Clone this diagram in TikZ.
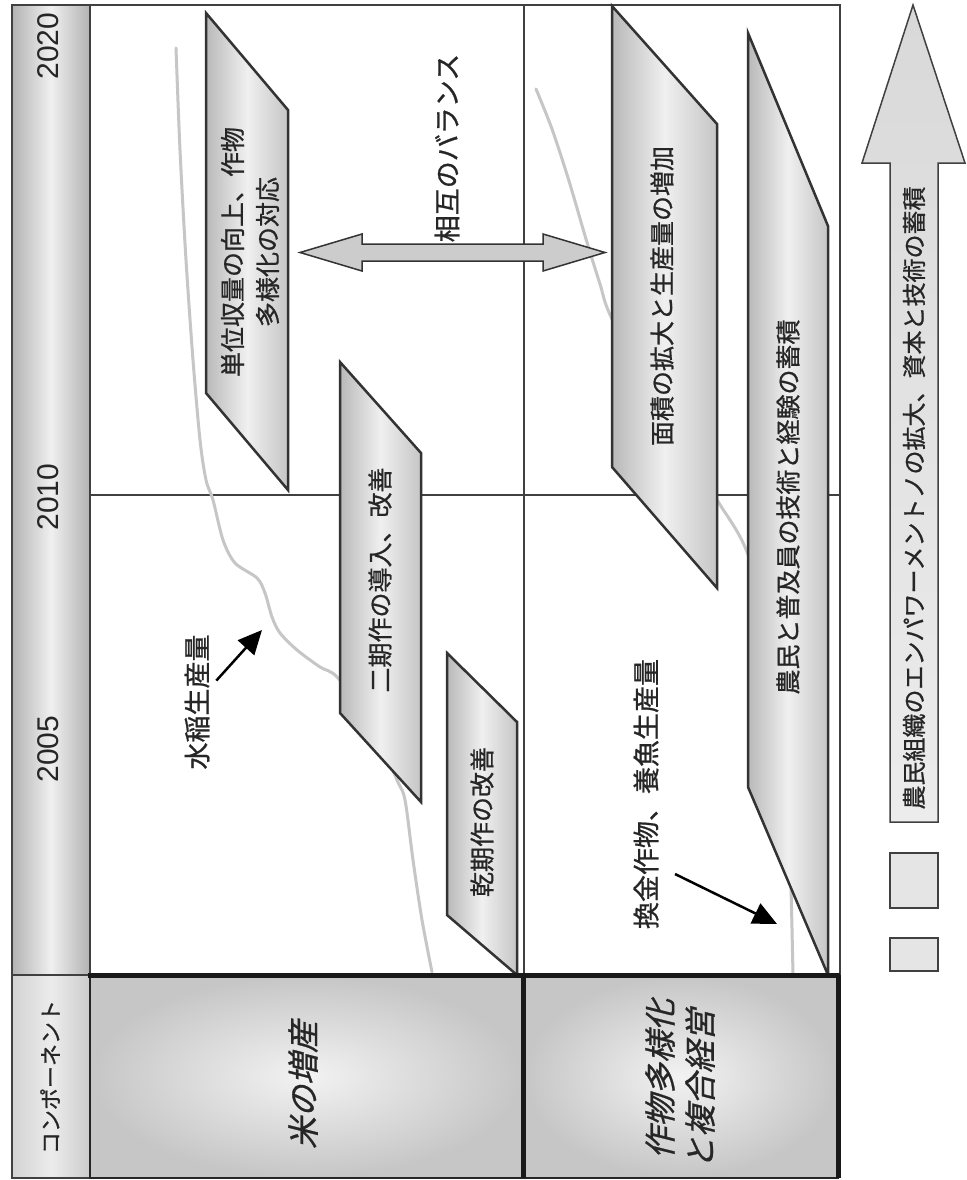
\documentclass[tikz,border=0pt]{standalone}
\usepackage{fontspec}
\setmainfont{Liberation Sans}
\newfontfamily\jp[FakeBold=0.8]{Noto Sans CJK JP}
\usetikzlibrary{arrows.meta}
\begin{document}
\begin{tikzpicture}[x=1pt,y=-1pt,
  frameline/.style={draw=black!75,line width=1.2},
  hdr/.style={draw=black!75,line width=1.2,left color=gray!60,right color=gray!60,middle color=gray!12},
  hdrcell/.style={draw=black!75,line width=1.2,left color=gray!35,right color=gray!40,middle color=gray!15},
  prodcurve/.style={draw=gray!45,line width=3,line cap=round},
  band/.style={draw=black!80,line width=2.5,line join=miter,left color=gray!55,right color=gray!45,middle color=gray!12},
  lbl/.style={font=\jp\fontsize{25}{35}\selectfont,rotate=90,text=black!85,inner sep=2pt},
  freelbl/.style={font=\jp\fontsize{27}{35}\selectfont,rotate=90,text=black!85,inner sep=2pt},
  yearlbl/.style={font=\fontsize{30}{36}\selectfont,rotate=90,text=black!85},
  hdrlbl/.style={font=\jp\fontsize{22}{26}\selectfont,rotate=90,text=black!85},
  boxlbl/.style={font=\jp\fontsize{32}{40}\selectfont,rotate=90,xslant=0.25,text=black!85,align=center},
  compbox/.style={draw=black!85,line width=2,inner color=gray!10,outer color=gray!45},
  thickedge/.style={draw=black!90,line width=5},
  pointer/.style={draw=black,line width=2.5,-{Triangle[length=24pt,width=22pt]}},
  dblarrow/.style={draw=black!80,line width=1.5,fill=gray!40},
  bigarrow/.style={draw=black!75,line width=1.5,top color=gray!30,bottom color=gray!15},
  legendbox/.style={draw=black!75,line width=1.5,fill=gray!20}]
\useasboundingbox (0,0) rectangle (966,1180);
\fill[white] (0,0) rectangle (966,1180);

% header column
\path[hdr] (12,5) rectangle (90,975);
\path[hdrcell] (12,975) rectangle (90,1178);
\node[yearlbl] (y2020) at (48,46) {2020};
\node[yearlbl] (y2010) at (48,497) {2010};
\node[yearlbl] (y2005) at (48,749) {2005};
\node[hdrlbl] (comp) at (50,1077) {コンポーネント};

% plot frame
\draw[frameline] (90,5) rectangle (840,975);
\draw[frameline] (90,495) -- (840,495);
\draw[frameline] (524,5) -- (524,975);

% production curves
\draw[prodcurve] plot[smooth] coordinates {(176,48) (180,150) (186,260) (193,360) (200,440) (206,480) (213,500) (223,540) (235,563) (257,578) (265,593) (272,617) (280,633) (297,650) (320,667) (337,677) (370,720) (397,780) (405,800) (413,860) (422,920) (432,972)};
\draw[prodcurve] plot[smooth] coordinates {(536,89) (552,129) (569,181) (586,239) (600,284) (612,319) (665,420) (717,500) (747,552) (775,650) (788,800) (791,888) (793,975)};

% bands
\draw[band] (206,13) -- (288,110) -- (288,490) -- (206,393) -- cycle;
\draw[band] (340,362) -- (421,453) -- (421,802) -- (340,713) -- cycle;
\draw[band] (447,653) -- (517,722) -- (517,975) -- (447,915) -- cycle;
\draw[band] (612,6) -- (717,124) -- (717,588) -- (612,467) -- cycle;
\draw[band] (748,33) -- (828,226) -- (828,975) -- (748,787) -- cycle;

\node[lbl,align=center] (yield) at (250,252) {単位収量の向上、作物\\多様化の対応};
\node[lbl] (twocrop) at (380,580) {二期作の導入、改善};
\node[lbl] (dry) at (482,822) {乾期作の改善};
\node[lbl] (area) at (662,296) {面積の拡大と生産量の増加};
\node[lbl] (farmer) at (788,507) {農民と普及員の技術と経験の蓄積};

% balance double arrow
\draw[dblarrow] (300,252.5) -- (362,234) -- (362,244) -- (543,244) -- (543,234) -- (605,252.5) -- (543,271) -- (543,261) -- (362,261) -- (362,271) -- cycle;
\node[freelbl] (balance) at (447,148) {相互のバランス};

% free labels and pointers
\node[freelbl] (rice) at (197,702) {水稲生産量};
\coordinate (riceTip) at (262,630);
\draw[pointer,shorten <=7pt] (rice) -- (riceTip);
\node[freelbl] (cash) at (646,794) {換金作物、養魚生産量};
\coordinate (cashFrom) at (675,874);
\coordinate (cashTip) at (777,924);
\draw[pointer] (cashFrom) -- (cashTip);

% component boxes
\path[compbox] (90,975) rectangle (523,1178);
\path[compbox] (523,975) rectangle (838,1178);
\draw[thickedge] (88,975) -- (840,975);
\draw[thickedge] (523,975) -- (523,1178);
\draw[thickedge] (838,975) -- (838,1178);
\node[boxlbl] (riceup) at (303,1082) {米の増産};
\node[boxlbl] (divers) at (680,1081) {作物多様化\\と複合経営};

% big arrow
\draw[bigarrow] (913,5) -- (965,163) -- (938,163) -- (938,822) -- (890,822) -- (890,163) -- (862,163) -- cycle;
\node[lbl,font=\jp\fontsize{24}{30}\selectfont] (empower) at (914,498) {農民組織のエンパワーメントノの拡大、資本と技術の蓄積};
\draw[legendbox] (890,853) rectangle (938,908);
\draw[legendbox] (890,938) rectangle (938,971);
\end{tikzpicture}
\end{document}
